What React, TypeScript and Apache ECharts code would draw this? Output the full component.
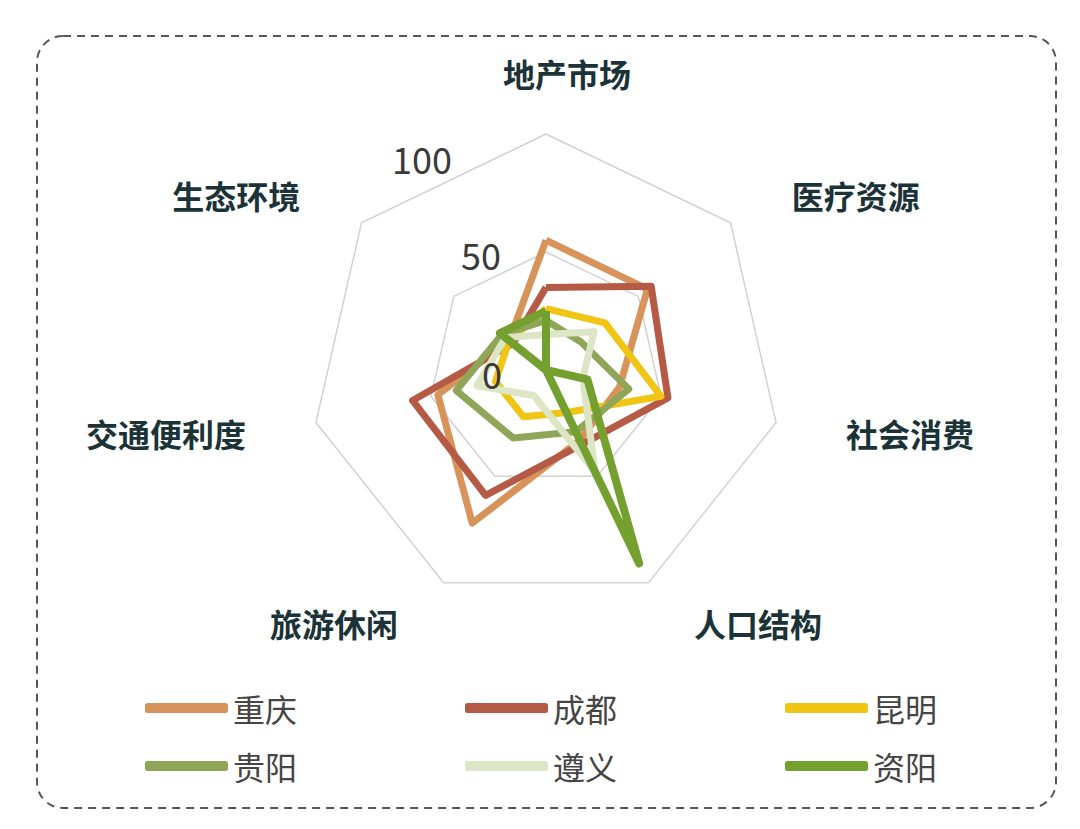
import React, { useEffect, useRef } from "react";
import * as echarts from "echarts";

// Indicators in clockwise order starting from the top
const indicators = ["地产市场", "医疗资源", "社会消费", "人口结构", "旅游休闲", "交通便利度", "生态环境"];
const cities = ["重庆", "成都", "昆明", "贵阳", "遵义", "资阳"];
const chongqing = [55, 55, 32, 33, 72, 47, 20];
const chengdu = [35, 57, 53, 35, 59, 58, 18];
const kunming = [26, 32, 50, 20, 22, 22, 20];
const guiyang = [21, 19, 36, 29, 32, 39, 24];
const zunyi = [15, 26, 16, 48, 12, 30, 22];
const ziyang = [25, 0, 18, 91, 0, 0, 25];
const cityValues = [chongqing, chengdu, kunming, guiyang, zunyi, ziyang];
const cityColors = ["#D8935B", "#B55B45", "#F0C514", "#8FA558", "#DCE6C4", "#74A030"];
const tickLabels = ["0", "50", "100"];
const axisMin = 0;
const axisMax = 100;

const CJK = "'Noto Sans CJK SC', 'Noto Sans', sans-serif";

// ECharts lays indicators counter-clockwise; reorder to get clockwise layout
const order = [0, 6, 5, 4, 3, 2, 1];
const reorder = (arr: number[]) => order.map((i) => arr[i]);

export default function App() {
  const ref = useRef<HTMLDivElement>(null);

  useEffect(() => {
    if (!ref.current) return;
    const chart = echarts.init(ref.current, undefined, { renderer: "svg" });

    const tickPos = [
      [492, 373],
      [481, 254],
      [422, 158],
    ];

    const option: any = {
      animation: false,
      backgroundColor: "#ffffff",
      radar: {
        center: [546, 370],
        radius: 236,
        startAngle: 90,
        shape: "polygon",
        splitNumber: 2,
        nameGap: 45,
        indicator: order.map((i) => ({ name: indicators[i], min: axisMin, max: axisMax })),
        axisName: {
          color: "#1b3338",
          fontSize: 32,
          fontWeight: "bold",
          fontFamily: CJK,
          padding: [0, 26, 0, 26],
          formatter: (name: string) => (name === indicators[0] ? `{top|${name}}` : name),
          rich: {
            top: {
              color: "#1b3338",
              fontSize: 32,
              fontWeight: "bold",
              fontFamily: CJK,
              padding: [0, 0, 0, 42],
            },
          },
        },
        splitLine: { lineStyle: { color: "#d2d2d2", width: 1.5 } },
        splitArea: { show: false },
        axisLine: { show: false },
        axisTick: { show: false },
        axisLabel: { show: false },
      },
      legend: [0, 1, 2].map((col) => ({
        data: [cities[col], cities[col + 3]],
        orient: "vertical",
        left: 145 + col * 320,
        top: 692,
        padding: 0,
        itemWidth: 83,
        itemHeight: 10,
        itemGap: 26,
        icon: "roundRect",
        selectedMode: false,
        textStyle: { fontSize: 32, color: "#454545", lineHeight: 32, fontFamily: CJK },
      })),
      series: cities.map((city, k) => ({
        type: "radar",
        name: city,
        symbol: "none",
        color: cityColors[k],
        itemStyle: { color: cityColors[k] },
        lineStyle: { color: cityColors[k], width: k === 5 ? 8 : 7, join: "round" },
        data: [{ name: city, value: reorder(cityValues[k]) }],
      })),
      graphic: [
        {
          type: "rect",
          shape: { x: 37, y: 36, width: 1019, height: 772, r: 26 },
          style: { fill: "none", stroke: "#555555", lineWidth: 2, lineDash: [8, 6] },
          silent: true,
          z: -1,
        },
        ...tickLabels.map((t, i) => ({
          type: "text",
          x: tickPos[i][0],
          y: tickPos[i][1],
          style: {
            text: t,
            fill: "#3a3a3a",
            font: `normal 36px ${CJK}`,
            textAlign: "center",
            textVerticalAlign: "middle",
          },
          z: 10,
        })),
      ],
    };

    chart.setOption(option);
    return () => chart.dispose();
  }, []);

  return (
    <div
      ref={ref}
      style={{ position: "fixed", left: 0, top: 0, width: 1080, height: 829, background: "#fff" }}
    />
  );
}
